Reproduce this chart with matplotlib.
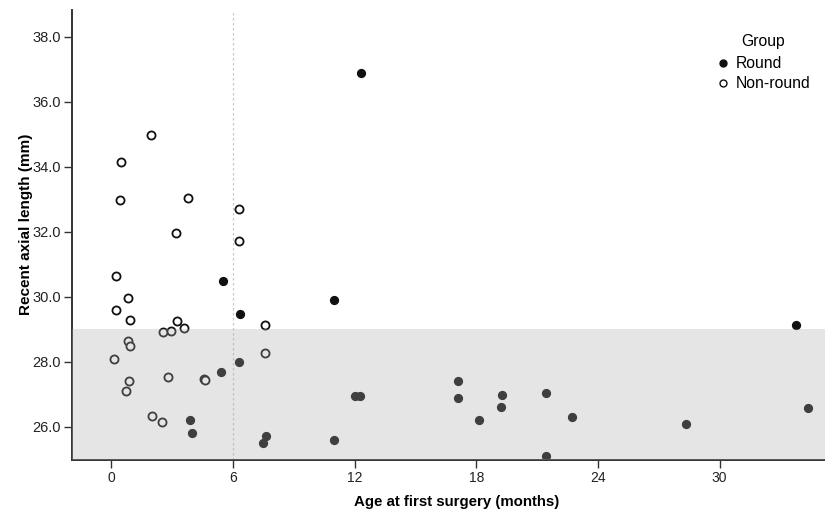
import matplotlib
matplotlib.use("Agg")
import matplotlib.pyplot as plt
from matplotlib.lines import Line2D

# age at first surgery (months) and recent axial length (mm)
round_age = [12.29, 5.49, 6.34, 10.99, 5.42, 6.28, 3.89, 3.96, 7.61, 7.49,
             10.97, 12.04, 12.24, 17.09, 17.09, 18.12, 19.29, 19.22, 21.46,
             21.46, 22.73, 28.34, 33.78, 34.35]
round_len = [36.87, 30.48, 29.48, 29.91, 27.68, 27.98, 26.21, 25.80, 25.71, 25.49,
             25.61, 26.95, 26.95, 27.42, 26.90, 26.21, 26.99, 26.60, 27.04,
             25.09, 26.30, 26.10, 29.12, 26.58]

nonround_age = [1.94, 0.48, 0.41, 3.79, 3.19, 6.31, 6.31, 0.23, 0.84, 0.23,
                0.94, 3.24, 2.56, 2.93, 3.58, 0.84, 0.94, 0.15, 7.56, 7.56,
                2.81, 4.57, 4.63, 0.87, 0.72, 1.99, 2.50]
nonround_len = [34.98, 34.15, 32.99, 33.05, 31.95, 32.71, 31.72, 30.65, 29.96, 29.58,
                29.30, 29.27, 28.91, 28.95, 29.03, 28.65, 28.48, 28.10, 29.12, 28.27,
                27.53, 27.48, 27.45, 27.40, 27.10, 26.33, 26.14]

cutoff_len = 29.0
cutoff_age = 6
x_ticks = [0, 6, 12, 18, 24, 30]
y_ticks = [26.0, 28.0, 30.0, 32.0, 34.0, 36.0, 38.0]

plt.rcParams["font.family"] = ["Liberation Sans", "DejaVu Sans"]

fig = plt.figure(figsize=(8.25, 5.13), dpi=100)
ax = fig.add_axes([0.0873, 0.1033, 0.9127, 0.8772])

ax.scatter(round_age, round_len, s=34, c="#111111", edgecolors="#111111",
           linewidths=0.8, zorder=2)
ax.scatter(nonround_age, nonround_len, s=34, facecolors="white",
           edgecolors="#111111", linewidths=1.3, zorder=2)

# shaded band drawn over the points, like the original
ax.axhspan(20, cutoff_len, facecolor="#aaaaaa", alpha=0.3, linewidth=0, zorder=3)
ax.axvline(cutoff_age, color="#c8c8c8", linestyle=(0, (2, 2)), linewidth=0.9, zorder=1)

ax.set_xlim(-1.94, 35.2)
ax.set_ylim(24.98, 38.82)
ax.set_xticks(x_ticks)
ax.set_xticklabels([str(t) for t in x_ticks], fontsize=10)
ax.set_yticks(y_ticks)
ax.set_yticklabels([f"{t:.1f}" for t in y_ticks], fontsize=10.5)
ax.tick_params(axis="both", length=6, width=1.0, color="#333333", labelcolor="#222222")
ax.tick_params(axis="x", pad=2)
ax.tick_params(axis="y", pad=2)

for side in ["top", "right"]:
    ax.spines[side].set_visible(False)
for side in ["left", "bottom"]:
    ax.spines[side].set_linewidth(1.4)
    ax.spines[side].set_color("#333333")

ax.set_xlabel("Age at first surgery (months)", fontweight="bold", fontsize=10.8)
ax.set_ylabel("Recent axial length (mm)", fontweight="bold", fontsize=11)
ax.xaxis.set_label_coords(0.511, -0.078)
ax.yaxis.set_label_coords(-0.052, 0.524)

handles = [
    Line2D([], [], marker="o", linestyle="", markersize=5, markerfacecolor="#111111",
           markeredgecolor="#111111"),
    Line2D([], [], marker="o", linestyle="", markersize=5, markerfacecolor="white",
           markeredgecolor="#111111", markeredgewidth=1.0),
]
leg = ax.legend(handles, ["Round", "Non-round"], title="Group", loc="upper right",
                bbox_to_anchor=(1.0, 0.977), frameon=False, fontsize=11.3,
                title_fontsize=11.3, handletextpad=0.3, labelspacing=0.3,
                borderaxespad=0.5, handlelength=1.1)
leg._legend_box.align = "left"
leg._legend_box.sep = 5
leg.get_title().set_position((27, 0))

fig.savefig("out.png", dpi=100)
